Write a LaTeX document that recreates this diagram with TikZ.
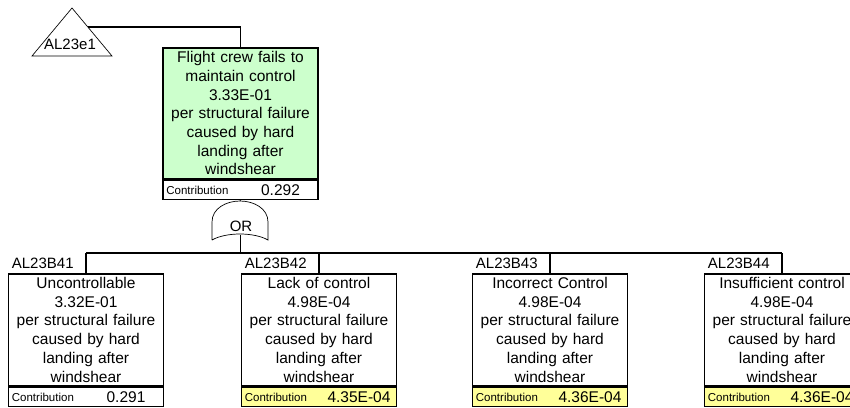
\documentclass[tikz,border=0pt]{standalone}
\usepackage{fontspec}
\setmainfont{Liberation Sans}
\usetikzlibrary{positioning}
\definecolor{topgreen}{RGB}{204,255,204}
\definecolor{contribyellow}{RGB}{255,255,153}

\begin{document}
\begin{tikzpicture}[x=1pt, y=-1pt,
    event/.style={draw, line width=1.6pt, minimum width=155pt, inner sep=0pt,
                  text width=153pt, align=center, font=\fontsize{15.5}{18.7}\selectfont},
    contrib/.style={draw, line width=1.6pt, minimum width=155pt, minimum height=19pt, inner sep=0pt},
    contriblabel/.style={inner sep=0pt, font=\fontsize{11.5}{13}\selectfont},
    contribvalue/.style={inner sep=0pt, font=\fontsize{15.5}{17}\selectfont},
    idlabel/.style={inner sep=0pt, font=\fontsize{15}{17}\selectfont},
    bus/.style={line width=1.6pt},
    gate/.style={line width=0.7pt}]
  % A basic event under the OR gate: #1 = name, #2 = x-coordinate of its center, #3 = identifier,
  % #4 = description, #5 = contribution, #6 = fill of the contribution row.
  \newcommand{\basicevent}[6]{%
    \node[event, minimum height=112pt, anchor=north] (#1) at (#2,273) {#4};
    \node[contrib, fill=#6, anchor=north] (#1c) at (#1.south) {};
    \node[contriblabel, anchor=west] (#1cl) at ([xshift=4pt]#1c.west) {Contribution};
    \node[contribvalue] (#1cv) at ([xshift=40pt]#1c.center) {#5};
    \node[idlabel, anchor=west] (#1id) at ([xshift=4pt, yshift=10pt]#1.north west) {#3};
    \coordinate (#1bus) at (#2,253);
    \draw[bus] (#1bus) -- (#1.north);}

  \useasboundingbox (0,0) rectangle (850,407);

  % transfer triangle
  \draw[gate] (32,56) -- (72,8) -- (112,56) -- cycle;
  \node[idlabel] (xfer) at (70,44) {AL23e1};
  \coordinate (xferout) at (88,27);

  % top event
  \node[event, fill=topgreen, minimum height=131pt, anchor=north] (top) at (240.5,47)
    {Flight crew fails to\\maintain control\\3.33E-01\\per structural failure\\caused by hard\\landing after\\windshear};
  \node[contrib, fill=white, anchor=north] (topc) at (top.south) {};
  \node[contriblabel, anchor=west] (topcl) at ([xshift=4pt]topc.west) {Contribution};
  \node[contribvalue] (topcv) at ([xshift=40pt]topc.center) {0.292};
  \draw[bus] (xferout) -| (top.north);

  % OR gate
  \coordinate (gatetop) at (240,201);
  \coordinate (gatebot) at (240,235);
  \coordinate (gatebus) at (240,253);
  \draw[gate] (212,240) -- (212,222) to[out=90, in=180] (gatetop) to[out=0, in=90] (268,222)
              -- (268,240) .. controls (254,232) and (226,232) .. (212,240);
  \node[idlabel] (orlabel) at (241,226) {OR};
  \draw[gate] (topc.south) -- (gatetop);
  \draw[gate] (gatebot) -- (gatebus);

  % basic events
  \basicevent{b41}{86}{AL23B41}{Uncontrollable\\3.32E-01\\per structural failure\\caused by hard\\landing after\\windshear}{0.291}{white}
  \basicevent{b42}{319}{AL23B42}{Lack of control\\4.98E-04\\per structural failure\\caused by hard\\landing after\\windshear}{4.35E-04}{contribyellow}
  \basicevent{b43}{550}{AL23B43}{Incorrect Control\\4.98E-04\\per structural failure\\caused by hard\\landing after\\windshear}{4.36E-04}{contribyellow}
  \basicevent{b44}{782}{AL23B44}{Insufficient control\\4.98E-04\\per structural failure\\caused by hard\\landing after\\windshear}{4.36E-04}{contribyellow}
  \draw[bus] (b41bus) -- (b44bus);
\end{tikzpicture}
\end{document}
